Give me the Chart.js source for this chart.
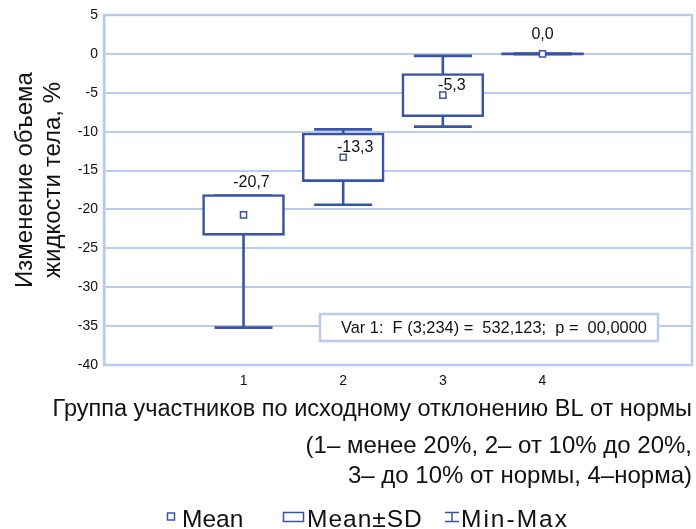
<!DOCTYPE html>
<html>
<head>
<meta charset="utf-8">
<script src="https://cdn.jsdelivr.net/npm/chart.js@4.4.1/dist/chart.umd.min.js"></script>
<style>
  html, body { margin: 0; padding: 0; background: #ffffff; }
  #wrap { width: 696px; height: 529px; }
</style>
</head>
<body>
<div id="wrap"><canvas id="chart" width="696" height="529"></canvas></div>
<script>
// Groups and their statistics (change of body fluid volume, %)
const groups = [1, 2, 3, 4];
const means = [-20.7, -13.3, -5.3, 0.0];
const sds = [2.5, 3.0, 2.65, 0.0];
const mins = [-35.2, -19.4, -9.35, 0.0];
const maxs = [-18.2, -9.7, -0.25, 0.0];

const yTitle = ['Изменение объема', 'жидкости тела, %'];
const xTitle = 'Группа участников по исходному отклонению BL от нормы';
const groupNote = ['(1– менее 20%, 2– от 10% до 20%,', '3– до 10% от нормы, 4–норма)'];
const statText = 'Var 1:  F (3;234) =  532,123;  p =  00,0000';
const legendLabels = ['Mean', 'Mean±SD', 'Min-Max'];

const BLUE = '#3a54a5';
const GRID = '#b9cceb';
const INK = '#111111';
const FONT = '"Liberation Sans", Arial, sans-serif';

// pixel nudges for the mean value labels
const labelOffsets = [[8, -32], [12, -10], [9, -10], [0, -19]];

const fmt = v => v.toFixed(1).replace('.', ',');

const boxData = groups.map((g, i) => ({ x: g, y: [means[i] - sds[i], means[i] + sds[i]] }));
const meanData = groups.map((g, i) => ({ x: g, y: means[i] }));
const capData = [];
const whiskerData = [];
groups.forEach((g, i) => {
  capData.push({ x: g, y: mins[i] }, { x: g, y: maxs[i] });
  whiskerData.push({ x: g, y: means[i] - sds[i] }, { x: g, y: mins[i] }, { x: g, y: null });
  whiskerData.push({ x: g, y: means[i] + sds[i] }, { x: g, y: maxs[i] }, { x: g, y: null });
});

// a box with no spread collapses to a single solid line
const flatBox = c => sds[c.dataIndex] === 0;

// keep the plot rectangle exactly where the layout padding puts it
const noScalePadding = s => {
  s.paddingLeft = 0; s.paddingRight = 0; s.paddingTop = 0; s.paddingBottom = 0;
};

const framePlugin = {
  id: 'frame',
  beforeDatasetsDraw(chart) {
    const { ctx, chartArea: a } = chart;
    ctx.save();
    ctx.strokeStyle = GRID;
    ctx.lineWidth = 2.5;
    ctx.strokeRect(a.left, a.top, a.right - a.left, a.bottom - a.top);
    ctx.restore();
  }
};

const labelsPlugin = {
  id: 'meanLabels',
  afterDatasetsDraw(chart) {
    const { ctx, scales: { x, y } } = chart;
    ctx.save();
    ctx.font = '16px ' + FONT;
    ctx.fillStyle = INK;
    ctx.textAlign = 'center';
    ctx.textBaseline = 'middle';
    means.forEach((m, i) => {
      const px = x.getPixelForValue(groups[i]) + labelOffsets[i][0];
      const py = y.getPixelForValue(m) + labelOffsets[i][1];
      ctx.fillText(fmt(m), px, py);
    });

    // ANOVA result box
    const a = chart.chartArea;
    const bw = 338, bh = 27;
    const bx = a.right - 34 - bw, by = a.bottom - 24 - bh;
    ctx.fillStyle = '#ffffff';
    ctx.fillRect(bx, by, bw, bh);
    ctx.strokeStyle = GRID;
    ctx.lineWidth = 2.5;
    ctx.strokeRect(bx, by, bw, bh);
    ctx.fillStyle = INK;
    ctx.font = '16.4px ' + FONT;
    ctx.textAlign = 'left';
    ctx.fillText(statText, bx + 21, by + bh / 2 + 1);
    ctx.restore();
  }
};

const decorPlugin = {
  id: 'decor',
  afterDraw(chart) {
    const { ctx, chartArea: a } = chart;
    ctx.save();
    // y axis title, two rotated lines
    ctx.font = '24px ' + FONT;
    ctx.fillStyle = INK;
    ctx.textAlign = 'center';
    ctx.textBaseline = 'middle';
    const cy = a.top + 165;
    [25, 53].forEach((cx, i) => {
      ctx.save();
      ctx.translate(cx, cy);
      ctx.rotate(-Math.PI / 2);
      ctx.fillText(yTitle[i], 0, 0);
      ctx.restore();
    });

    // legend
    const ly = 517;
    ctx.strokeStyle = BLUE;
    ctx.lineWidth = 1.5;
    ctx.fillStyle = '#ffffff';
    ctx.fillRect(167.5, ly - 4, 7, 7);
    ctx.strokeRect(167.5, ly - 4, 7, 7);
    ctx.strokeRect(283.5, ly - 4.5, 20, 9);
    ctx.beginPath();
    ctx.moveTo(445, ly - 4.5); ctx.lineTo(459, ly - 4.5);
    ctx.moveTo(445, ly + 4.5); ctx.lineTo(459, ly + 4.5);
    ctx.moveTo(452, ly - 4.5); ctx.lineTo(452, ly + 4.5);
    ctx.stroke();
    ctx.fillStyle = INK;
    ctx.font = '24.5px ' + FONT;
    ctx.textAlign = 'left';
    ctx.textBaseline = 'alphabetic';
    ctx.fillText(legendLabels[0], 182, 527);
    ctx.letterSpacing = '1px';
    ctx.fillText(legendLabels[1], 307, 527);
    ctx.letterSpacing = '2px';
    ctx.fillText(legendLabels[2], 461, 527);
    ctx.restore();
  }
};

new Chart(document.getElementById('chart'), {
  type: 'scatter',
  data: {
    datasets: [
      {
        type: 'scatter', label: 'Mean', data: meanData, order: 0,
        pointStyle: 'rect', pointRadius: 4.3, pointBorderWidth: 1.5,
        pointBackgroundColor: '#ffffff', pointBorderColor: BLUE
      },
      {
        type: 'bar', label: 'Mean±SD', data: boxData, order: 1,
        backgroundColor: c => flatBox(c) ? BLUE : '#ffffff',
        borderWidth: c => flatBox(c) ? 0 : 2.6,
        borderColor: BLUE, inflateAmount: 1.3, borderSkipped: false, barThickness: 80
      },
      {
        type: 'scatter', label: 'Min-Max caps', data: capData, order: 2,
        pointStyle: 'line', pointRadius: 29, pointBorderWidth: 2.6, pointBorderColor: BLUE
      },
      {
        type: 'scatter', label: 'Min-Max', data: whiskerData, order: 3,
        showLine: true, spanGaps: false, borderColor: BLUE, borderWidth: 2.6, pointRadius: 0
      }
    ]
  },
  options: {
    responsive: false,
    animation: false,
    events: [],
    layout: { autoPadding: false, padding: { left: 0, top: 15, right: 4, bottom: 38 } },
    plugins: {
      legend: { display: false },
      tooltip: { enabled: false },
      subtitle: {
        display: true, position: 'bottom', align: 'end', text: xTitle,
        color: INK, font: { family: FONT, size: 23.5, weight: 'normal', lineHeight: 26 / 23.5 },
        padding: { top: 8, bottom: 0 }
      },
      title: {
        display: true, position: 'bottom', align: 'end', text: groupNote,
        color: INK, font: { family: FONT, size: 24, weight: 'normal', lineHeight: 30 / 24 },
        padding: { top: 8, bottom: 0 }
      }
    },
    scales: {
      x: {
        type: 'linear', min: -0.4, max: 5.5, offset: false,
        afterBuildTicks: s => { s.ticks = groups.map(v => ({ value: v })); },
        afterFit: s => { s.height = 24; noScalePadding(s); },
        grid: { display: false, drawTicks: false },
        border: { display: false },
        ticks: { color: INK, font: { family: FONT, size: 14 }, padding: 8 }
      },
      y: {
        min: -40, max: 5,
        afterFit: s => { s.width = 104; noScalePadding(s); },
        grid: { color: GRID, lineWidth: 2, drawTicks: false },
        border: { color: GRID, width: 2.5 },
        ticks: { stepSize: 5, color: INK, font: { family: FONT, size: 14 }, padding: 6 }
      }
    }
  },
  plugins: [framePlugin, labelsPlugin, decorPlugin]
});
</script>
</body>
</html>
